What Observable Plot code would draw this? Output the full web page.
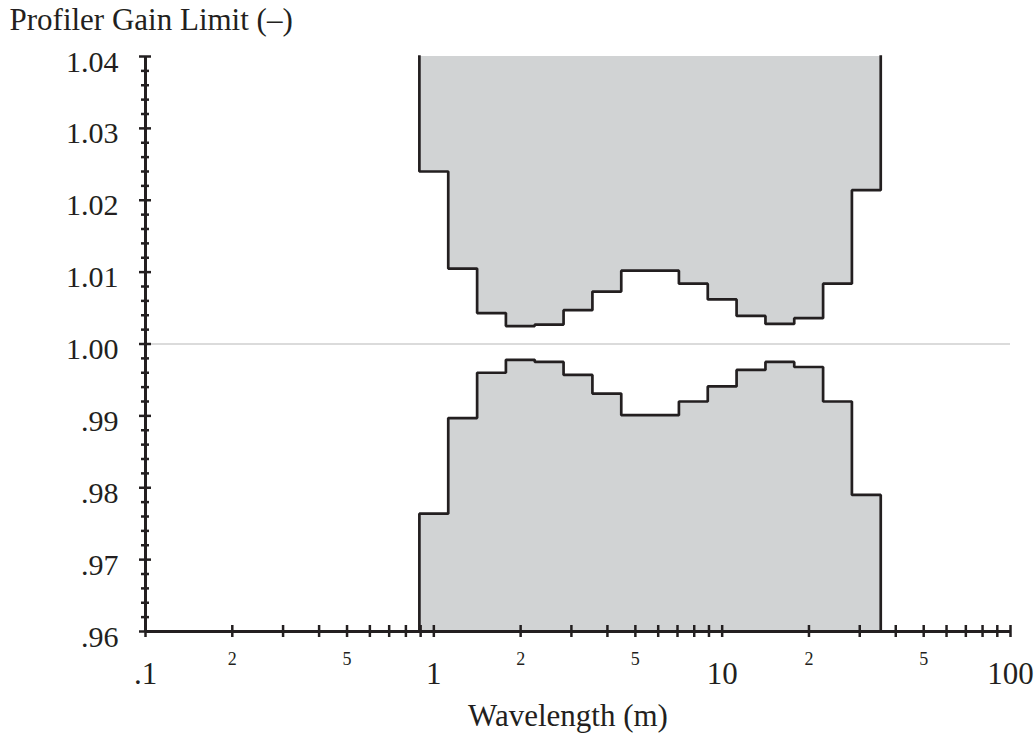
<!DOCTYPE html>
<html>
<head>
<meta charset="utf-8">
<script src="https://cdn.jsdelivr.net/npm/d3@7"></script>
<script src="https://cdn.jsdelivr.net/npm/@observablehq/plot@0.6"></script>
<style>
  html, body { margin: 0; padding: 0; background: #fff; }
</style>
</head>
<body>
<script>
// Third-octave band edges (m)
const bandEdges = [0.891, 1.122, 1.413, 1.778, 2.239, 2.818, 3.548, 4.467, 5.623, 7.079, 8.913, 11.22, 14.13, 17.78, 22.39, 28.18, 35.48];
// Upper gain limit per band
const upperLimit = [1.0240, 1.0105, 1.0043, 1.0025, 1.0027, 1.0047, 1.0073, 1.0102, 1.0102, 1.0084, 1.0062, 1.0039, 1.0028, 1.0036, 1.0084, 1.0214];
// Lower gain limit per band
const lowerLimit = [0.9764, 0.9897, 0.9960, 0.9978, 0.9975, 0.9957, 0.9931, 0.9901, 0.9901, 0.9920, 0.9941, 0.9964, 0.9975, 0.9968, 0.9920, 0.9790];

const yDomain = [0.96, 1.04];
const xDomain = [0.1, 100];
const yMajorTicks = [0.96, 0.97, 0.98, 0.99, 1.00, 1.01, 1.02, 1.03, 1.04];
const yMajorLabels = [".96", ".97", ".98", ".99", "1.00", "1.01", "1.02", "1.03", "1.04"];
const yMinorTicks = [0.962,0.964,0.966,0.968,0.972,0.974,0.976,0.978,0.982,0.984,0.986,0.988,0.992,0.994,0.996,0.998,1.002,1.004,1.006,1.008,1.012,1.014,1.016,1.018,1.022,1.024,1.026,1.028,1.032,1.034,1.036,1.038];
const xTicks = [0.1,0.2,0.3,0.4,0.5,0.6,0.7,0.8,0.9,1,2,3,4,5,6,7,8,9,10,20,30,40,50,60,70,80,90,100];
const xMajorTicks = [0.1, 1, 10, 100];
const xMajorLabels = [".1", "1", "10", "100"];
const xMinorLabelTicks = [0.2, 0.5, 2, 5, 20, 50];
const xMinorLabels = ["2", "5", "2", "5", "2", "5"];
const yTitle = "Profiler Gain Limit (–)";
const xTitle = "Wavelength (m)";
const refLine = [1.00];

const ink = "#231f20";
const fillGray = "#d1d3d4";

const n = upperLimit.length;
const steps = bandEdges.map((e, i) => ({x: e, u: upperLimit[Math.min(i, n - 1)], l: lowerLimit[Math.min(i, n - 1)]}));
const upperOutline = [{x: bandEdges[0], y: yDomain[1]}, ...steps.map(d => ({x: d.x, y: d.u})), {x: bandEdges[n], y: yDomain[1]}];
const lowerOutline = [{x: bandEdges[0], y: yDomain[0]}, ...steps.map(d => ({x: d.x, y: d.l})), {x: bandEdges[n], y: yDomain[0]}];

const chart = Plot.plot({
  width: 1035,
  height: 733,
  marginLeft: 145,
  marginRight: 25,
  marginTop: 56,
  marginBottom: 102,
  style: {fontFamily: "'Liberation Serif', 'Times New Roman', serif", background: "#fff", color: ink},
  x: {type: "log", domain: xDomain, label: null},
  y: {domain: yDomain, label: null},
  marks: [
    Plot.ruleY(refLine, {stroke: "#cfcfcf", strokeWidth: 1.5}),
    Plot.areaY(steps, {x: "x", y1: "u", y2: yDomain[1], curve: "step-after", fill: fillGray}),
    Plot.areaY(steps, {x: "x", y1: yDomain[0], y2: "l", curve: "step-after", fill: fillGray}),
    Plot.line(upperOutline, {x: "x", y: "y", curve: "step-after", stroke: ink, strokeWidth: 2.7, strokeLinejoin: "miter", strokeLinecap: "square"}),
    Plot.line(lowerOutline, {x: "x", y: "y", curve: "step-after", stroke: ink, strokeWidth: 2.7, strokeLinejoin: "miter", strokeLinecap: "square"}),
    // axis lines
    Plot.ruleX([xDomain[0]], {stroke: ink, strokeWidth: 3}),
    Plot.ruleY([yDomain[0]], {stroke: ink, strokeWidth: 3}),
    // y ticks
    Plot.axisY(yMajorTicks, {tickSize: 12, dx: 6, tickFormat: () => "", label: null, stroke: ink, strokeWidth: 2.5}),
    Plot.axisY(yMinorTicks, {tickSize: 8, dx: 4, tickFormat: () => "", label: null, stroke: ink, strokeWidth: 2.5}),
    // x ticks
    Plot.axisX(xTicks, {tickSize: 12, dy: -6, tickFormat: () => "", label: null, stroke: ink, strokeWidth: 2.5}),
    // y labels
    Plot.text(yMajorTicks, {y: d => d, frameAnchor: "left", textAnchor: "end", dx: -27, dy: 5.5, text: (d, i) => yMajorLabels[i], fontSize: 30, fill: ink}),
    // x labels
    Plot.text(xMajorTicks, {x: d => d, frameAnchor: "bottom", lineAnchor: "middle", dy: 43, text: (d, i) => xMajorLabels[i], fontSize: 31, fill: ink}),
    Plot.text(xMinorLabelTicks, {x: d => d, frameAnchor: "bottom", lineAnchor: "middle", dy: 28, text: (d, i) => xMinorLabels[i], fontSize: 18, fill: ink}),
    // titles
    Plot.text([yTitle], {frameAnchor: "top-left", textAnchor: "start", lineAnchor: "middle", dx: -136, dy: -36, fontSize: 31, fill: ink}),
    Plot.text([xTitle], {frameAnchor: "bottom", lineAnchor: "middle", dy: 85, dx: -10, fontSize: 31, fill: ink})
  ]
});
document.body.appendChild(chart);
</script>
</body>
</html>
